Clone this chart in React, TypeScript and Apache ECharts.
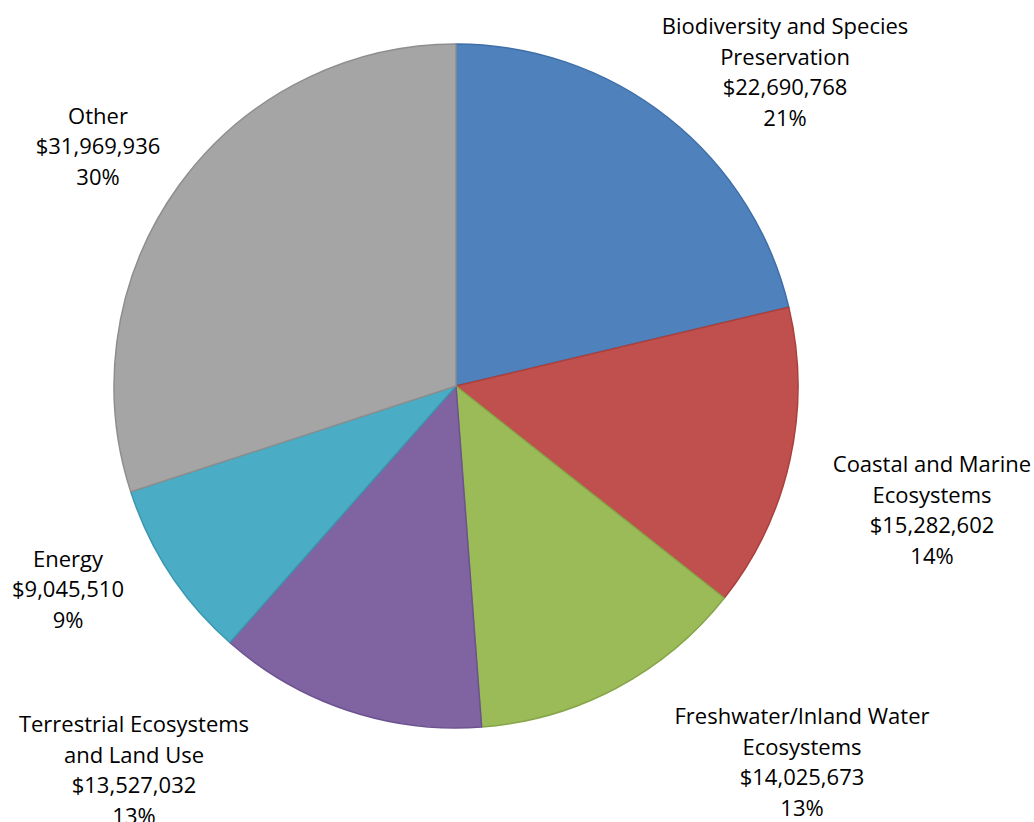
import React, { useEffect, useRef } from "react";
import * as echarts from "echarts";

const categories = [
  "Biodiversity and Species\nPreservation",
  "Coastal and Marine\nEcosystems",
  "Freshwater/Inland Water\nEcosystems",
  "Terrestrial Ecosystems\nand Land Use",
  "Energy",
  "Other",
];
const values = [22690768, 15282602, 14025673, 13527032, 9045510, 31969936];
const colors = ["#4F81BD", "#C0504D", "#9BBB59", "#8064A2", "#4BACC6", "#A5A5A5"];
const borders = ["#3F6FA8", "#A9403D", "#86A548", "#6C5290", "#3B97AF", "#8E8E8E"];
// label centre positions (px)
const labelPos = [
  [785, 71],
  [932, 509],
  [802, 761],
  [134, 769],
  [68, 588],
  [98, 145],
];

function fmt(v: number) {
  return "$" + v.toLocaleString("en-US");
}

export default function App() {
  const ref = useRef<HTMLDivElement>(null);
  useEffect(() => {
    if (!ref.current) return;
    const chart = echarts.init(ref.current, undefined, { renderer: "svg" });
    chart.setOption({
      animation: false,
      backgroundColor: "#ffffff",
      series: [
        {
          type: "pie",
          center: [456, 386],
          radius: [0, 342],
          startAngle: 90,
          clockwise: true,
          percentPrecision: 0,
          avoidLabelOverlap: false,
          data: categories.map((name, i) => ({
            name,
            value: values[i],
            itemStyle: { color: colors[i], borderColor: borders[i], borderWidth: 1.5 },
          })),
          label: {
            show: true,
            position: "outside",
            formatter: (p: any) => `${p.name}\n${fmt(p.value)}\n${p.percent}%`,
            fontFamily: "Open Sans",
            fontSize: 22,
            lineHeight: 30.5,
            color: "#000000",
            align: "center",
            overflow: "none",
            width: 400,
          },
          labelLine: { show: false },
          labelLayout: (params: any) => {
            const p = labelPos[params.dataIndex];
            return { x: p[0], y: p[1], align: "center", verticalAlign: "middle" };
          },
          emphasis: { disabled: true },
        },
      ],
    });
    return () => chart.dispose();
  }, []);
  return (
    <div
      ref={ref}
      style={{ position: "absolute", left: 0, top: 0, width: 1034, height: 822 }}
    />
  );
}
